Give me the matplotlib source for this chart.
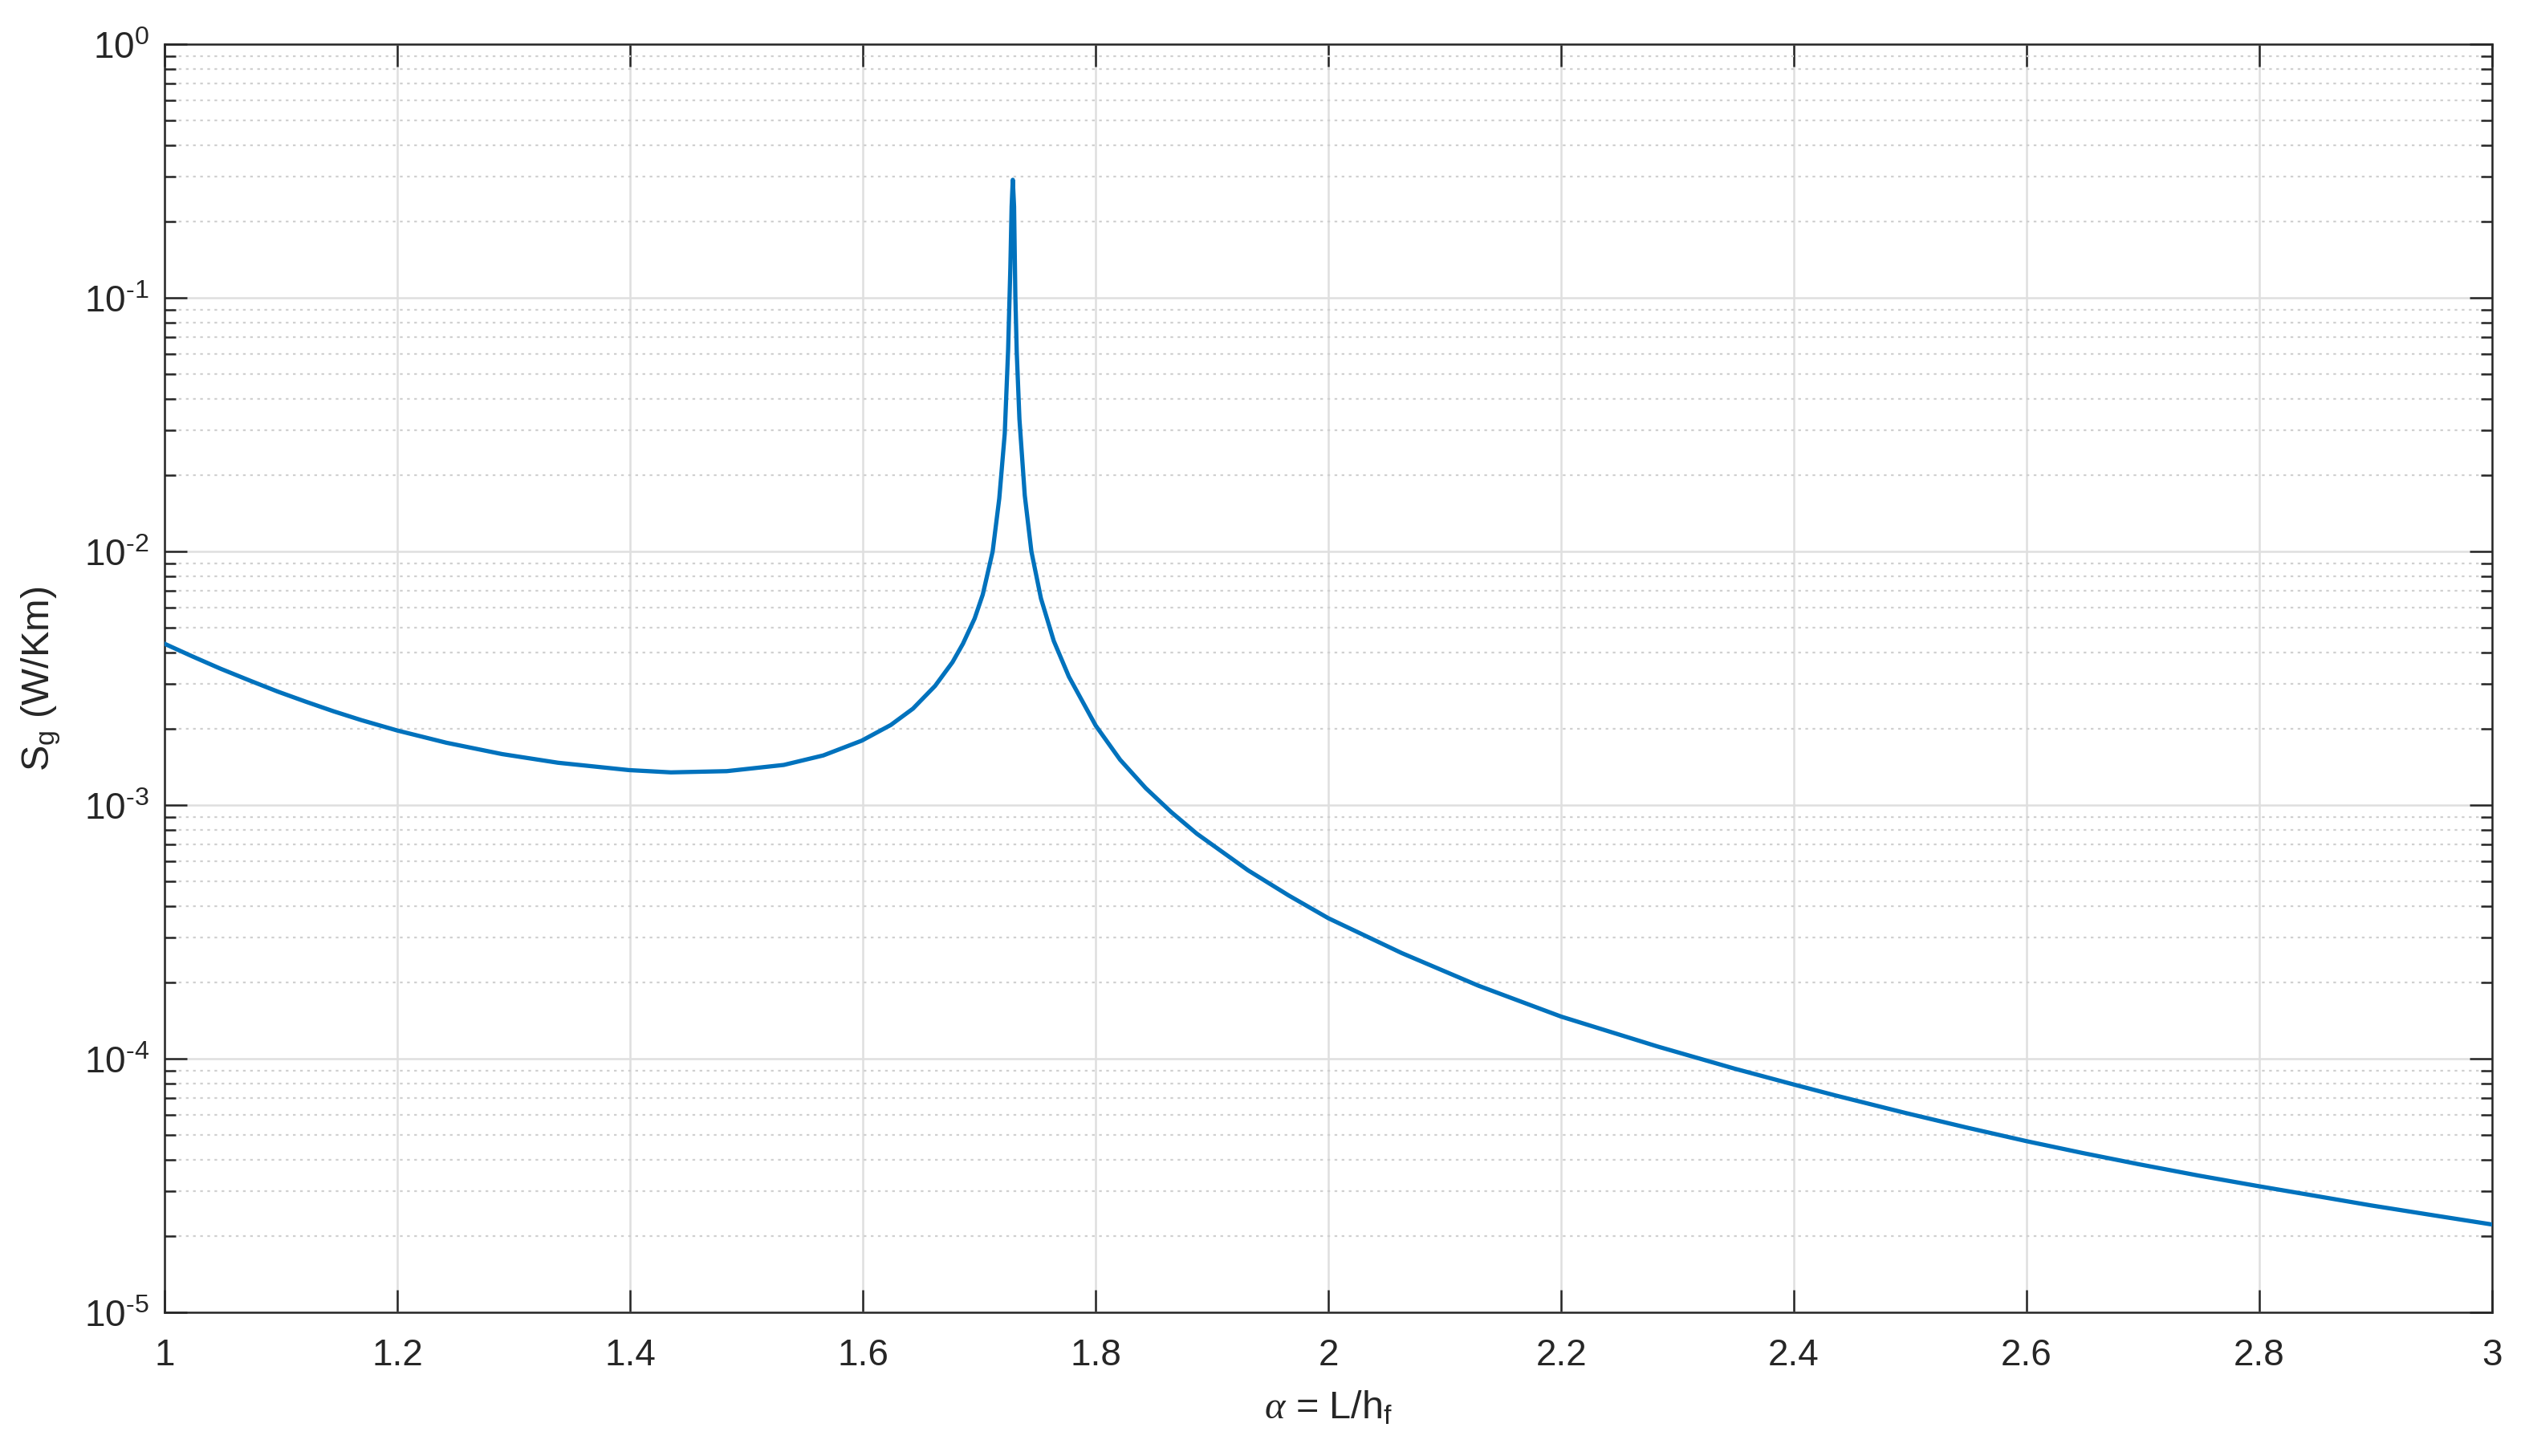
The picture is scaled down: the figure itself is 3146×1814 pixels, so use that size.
import matplotlib
matplotlib.use("Agg")
import numpy as np
import matplotlib.pyplot as plt
from matplotlib import ticker

# values (alpha = L/h_f, S_g in W/Km)
alpha = [1.000, 1.024, 1.048, 1.073, 1.097, 1.121, 1.145, 1.169, 1.200, 1.242,
         1.290, 1.338, 1.399, 1.435, 1.483, 1.532, 1.566, 1.599, 1.624, 1.643,
         1.662, 1.677, 1.686, 1.696, 1.703, 1.7115, 1.7172, 1.7219, 1.7248, 1.7267,
         1.7278, 1.7288, 1.7299, 1.731, 1.7322, 1.7345, 1.7391, 1.7448, 1.753, 1.764,
         1.777, 1.800, 1.821, 1.843, 1.865, 1.887, 1.931, 1.966, 2.000, 2.063,
         2.129, 2.200, 2.283, 2.349, 2.400, 2.436, 2.496, 2.548, 2.600, 2.648,
         2.696, 2.748, 2.800, 2.848, 2.896, 2.948, 3.000]
S_g = [4.325e-3, 3.855e-3, 3.45e-3, 3.10e-3, 2.805e-3, 2.56e-3, 2.345e-3, 2.163e-3, 1.968e-3, 1.762e-3,
       1.589e-3, 1.469e-3, 1.374e-3, 1.346e-3, 1.361e-3, 1.44e-3, 1.57e-3, 1.795e-3, 2.07e-3, 2.40e-3,
       2.95e-3, 3.66e-3, 4.33e-3, 5.44e-3, 6.76e-3, 1.0e-2, 1.62e-2, 2.92e-2, 6.25e-2, 0.131,
       0.229, 0.292, 0.229, 0.1016, 0.0611, 0.0333, 0.01663, 0.0100, 6.53e-3, 4.44e-3,
       3.21e-3, 2.06e-3, 1.51e-3, 1.167e-3, 9.38e-4, 7.71e-4, 5.53e-4, 4.40e-4, 3.58e-4, 2.61e-4,
       1.94e-4, 1.466e-4, 1.117e-4, 9.14e-5, 7.91e-5, 7.16e-5, 6.11e-5, 5.36e-5, 4.73e-5, 4.25e-5,
       3.84e-5, 3.46e-5, 3.14e-5, 2.88e-5, 2.64e-5, 2.42e-5, 2.22e-5]

x_ticks = [1, 1.2, 1.4, 1.6, 1.8, 2, 2.2, 2.4, 2.6, 2.8, 3]

plt.rcParams['font.family'] = ['Liberation Sans', 'DejaVu Sans']
plt.rcParams['mathtext.fontset'] = 'custom'
plt.rcParams['mathtext.rm'] = 'Liberation Sans'
plt.rcParams['mathtext.it'] = 'Liberation Serif:italic'
plt.rcParams['mathtext.default'] = 'regular'

ink = '#262626'


def pow_label(v, pos):
    e = int(round(np.log10(v)))
    if e < 0:
        return r'$10^{\text{-%d}}$' % (-e)
    return r'$10^{%d}$' % e


fig = plt.figure(figsize=(15.73, 9.075), dpi=200)
ax = fig.add_axes([0.0652, 0.0986, 0.9218, 0.8705])

ax.plot(alpha, S_g, color='#0072BD', lw=1.9, zorder=3, solid_joinstyle='round')

ax.set_yscale('log')
ax.set_xlim(1, 3)
ax.set_ylim(1e-5, 1)
ax.set_xticks(x_ticks)
ax.xaxis.set_major_formatter(ticker.FormatStrFormatter('%g'))
ax.yaxis.set_major_locator(ticker.LogLocator(base=10, numticks=10))
ax.yaxis.set_major_formatter(ticker.FuncFormatter(pow_label))
ax.yaxis.set_minor_locator(ticker.LogLocator(base=10, subs=range(2, 10), numticks=20))
ax.yaxis.set_minor_formatter(ticker.NullFormatter())

ax.grid(True, which='major', color='#dfdfdf', lw=0.9, ls='-', zorder=0)
ax.grid(True, which='minor', axis='y', color='#d0d0d0', lw=0.8, ls=(0, (1.5, 2.5)), zorder=0)
ax.set_axisbelow(True)

ax.tick_params(which='both', direction='in', top=True, right=True, colors=ink,
               labelsize=16.5, width=0.9)
ax.tick_params(which='major', length=10)
ax.tick_params(axis='x', which='major', pad=11)
ax.tick_params(axis='y', which='major', pad=7)
ax.tick_params(which='minor', length=5)
for s in ax.spines.values():
    s.set_color(ink)
    s.set_linewidth(0.9)

ax.set_xlabel(r'$\mathit{\alpha}$ = L/h$_\mathregular{f}$', fontsize=17.5, color=ink)
ax.set_ylabel(r'S$_\mathregular{g}$ (W/Km)', fontsize=17.5, color=ink)
ax.xaxis.set_label_coords(0.5, -0.060)
ax.yaxis.set_label_coords(-0.044, 0.5)

fig.savefig('out.png', dpi=200)
